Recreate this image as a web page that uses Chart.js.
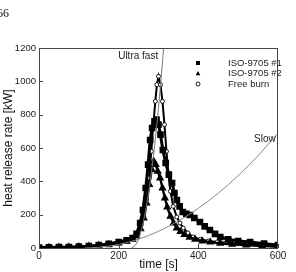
<!DOCTYPE html>
<html>
<head>
<meta charset="utf-8">
<script src="https://cdn.jsdelivr.net/npm/chart.js@4.4.0/dist/chart.umd.min.js"></script>
<style>
  html, body { margin: 0; padding: 0; background: #fff; }
</style>
</head>
<body>
<canvas id="hrr-chart" width="296" height="272"></canvas>
<script>
// values
var xTicks = [0, 200, 400, 600];
var yTicks = [0, 200, 400, 600, 800, 1000, 1200];

var iso1Time = [0, 25, 50, 75, 100, 125, 150, 175, 200, 220, 235, 245, 254, 261, 268, 274, 279, 284, 290, 295, 300, 305, 311, 318, 326, 334, 340, 346, 353, 361, 370, 379, 390, 404, 416, 429, 442, 455, 475, 500, 530, 565, 600];
var iso1Hrr = [3, 4, 5, 6, 8, 11, 17, 25, 36, 46, 60, 85, 150, 228, 360, 500, 648, 720, 760, 770, 740, 680, 588, 510, 440, 390, 330, 288, 250, 216, 205, 198, 180, 156, 130, 108, 85, 66, 52, 42, 36, 26, 18];

var iso2Time = [0, 25, 50, 75, 100, 125, 150, 175, 200, 220, 235, 245, 255, 263, 270, 277, 283, 288, 293, 298, 304, 310, 316, 322, 330, 338, 346, 355, 365, 378, 392, 410, 430, 455, 485, 520, 560, 600];
var iso2Hrr = [2, 3, 4, 5, 7, 10, 14, 21, 30, 40, 52, 72, 115, 180, 270, 380, 470, 520, 500, 460, 420, 360, 300, 245, 190, 150, 120, 98, 80, 64, 52, 42, 35, 28, 22, 17, 12, 9];

var freeTime = [0, 25, 50, 75, 100, 125, 150, 175, 200, 220, 235, 245, 255, 263, 270, 276, 282, 287, 292, 296, 300, 305, 310, 315, 320, 325, 330, 337, 346, 354, 362, 374, 387, 405, 425, 447, 470, 500, 530, 565, 600];
var freeHrr = [2, 3, 4, 5, 7, 10, 15, 22, 32, 42, 55, 75, 120, 190, 290, 420, 580, 740, 880, 980, 1030, 980, 880, 740, 580, 440, 340, 250, 186, 150, 120, 90, 66, 52, 42, 36, 31, 26, 22, 15, 8];

var ultraTime = [233, 245, 255, 265, 275, 285, 295, 305, 313];
var ultraHrr = [0, 27, 91, 192, 331, 507, 721, 973, 1200];

var slowTime = [115, 150, 200, 250, 300, 350, 400, 450, 500, 550, 600];
var slowHrr = [0, 4, 21, 53, 100, 162, 238, 329, 434, 554, 689];

function pairs(xs, ys) {
  return xs.map(function (x, i) { return { x: x, y: ys[i] }; });
}

var FONT = '"Liberation Sans", Arial, sans-serif';

var hrrOverlay = {
  id: 'hrrOverlay',
  afterDatasetsDraw: function (chart) {
    var ctx = chart.ctx;
    var area = chart.chartArea;
    var xs = chart.scales.x, ys = chart.scales.y;
    ctx.save();

    // frame round the plot
    ctx.strokeStyle = '#444';
    ctx.lineWidth = 1;
    ctx.strokeRect(area.left + 0.5, area.top + 0.5, area.right - area.left - 1, area.bottom - area.top);

    // inward tick marks
    ctx.beginPath();
    yTicks.forEach(function (v) {
      var py = Math.round(ys.getPixelForValue(v)) + 0.5;
      ctx.moveTo(area.left, py);
      ctx.lineTo(area.left + 4, py);
    });
    xTicks.forEach(function (v) {
      var px = Math.round(xs.getPixelForValue(v)) + 0.5;
      ctx.moveTo(px, area.bottom);
      ctx.lineTo(px, area.bottom - 4);
    });
    ctx.stroke();

    // curve labels
    ctx.fillStyle = '#222';
    ctx.font = '10px ' + FONT;
    ctx.textAlign = 'center';
    ctx.textBaseline = 'middle';
    ctx.fillText('Ultra fast', xs.getPixelForValue(249), ys.getPixelForValue(1152));
    ctx.fillText('Slow', xs.getPixelForValue(567), ys.getPixelForValue(654));

    // legend
    var labels = ['ISO-9705 #1', 'ISO-9705 #2', 'Free burn'];
    var rowsY = [63, 73.5, 84];
    ctx.textAlign = 'left';
    ctx.font = '9.5px ' + FONT;
    labels.forEach(function (t, i) {
      ctx.fillStyle = '#222';
      ctx.fillText(t, 228, rowsY[i]);
    });
    ctx.fillStyle = '#000';
    ctx.strokeStyle = '#000';
    ctx.fillRect(196, rowsY[0] - 2, 4, 4);
    ctx.beginPath();
    ctx.moveTo(198, rowsY[1] - 2.5);
    ctx.lineTo(200.3, rowsY[1] + 1.8);
    ctx.lineTo(195.7, rowsY[1] + 1.8);
    ctx.closePath();
    ctx.fill();
    ctx.beginPath();
    ctx.arc(198, rowsY[2], 2, 0, Math.PI * 2);
    ctx.fillStyle = '#fff';
    ctx.fill();
    ctx.lineWidth = 0.9;
    ctx.stroke();

    // page number
    ctx.fillStyle = '#111';
    ctx.font = '12px "Liberation Serif", serif';
    ctx.textBaseline = 'alphabetic';
    ctx.fillText('66', -3, 17);

    ctx.restore();
  }
};

var ctxEl = document.getElementById('hrr-chart');
var hrrChart = new Chart(ctxEl, {
  type: 'scatter',
  data: {
    datasets: [
      {
        label: 'Ultra fast',
        data: pairs(ultraTime, ultraHrr),
        showLine: true,
        borderColor: '#777',
        borderWidth: 1,
        pointRadius: 0,
        cubicInterpolationMode: 'monotone'
      },
      {
        label: 'Slow',
        data: pairs(slowTime, slowHrr),
        showLine: true,
        borderColor: '#888',
        borderWidth: 1,
        pointRadius: 0,
        cubicInterpolationMode: 'monotone'
      },
      {
        label: 'ISO-9705 #1',
        data: pairs(iso1Time, iso1Hrr),
        showLine: true,
        borderColor: '#000',
        borderWidth: 3,
        pointStyle: 'rect',
        pointRadius: 2.6,
        pointBackgroundColor: '#000',
        pointBorderColor: '#000'
      },
      {
        label: 'ISO-9705 #2',
        data: pairs(iso2Time, iso2Hrr),
        showLine: true,
        borderColor: '#000',
        borderWidth: 2.4,
        pointStyle: 'triangle',
        pointRadius: 2.4,
        pointBackgroundColor: '#000',
        pointBorderColor: '#000'
      },
      {
        label: 'Free burn',
        data: pairs(freeTime, freeHrr),
        showLine: true,
        borderColor: '#000',
        borderWidth: 2,
        pointStyle: 'circle',
        pointRadius: 2,
        pointBorderWidth: 0.9,
        pointBackgroundColor: '#fff',
        pointBorderColor: '#000'
      }
    ]
  },
  options: {
    responsive: false,
    devicePixelRatio: 1,
    animation: false,
    layout: { padding: { left: 0, right: 18, top: 48, bottom: 0 } },
    plugins: {
      legend: { display: false },
      tooltip: { enabled: false }
    },
    scales: {
      x: {
        type: 'linear',
        min: 0,
        max: 600,
        afterBuildTicks: function (scale) {
          scale.ticks = xTicks.map(function (v) { return { value: v }; });
        },
        afterFit: function (scale) { scale.height = 24; },
        grid: { display: false, drawTicks: false },
        border: { display: false },
        ticks: {
          padding: 2,
          color: '#222',
          font: { family: FONT, size: 10 },
          callback: function (v) { return String(v); }
        },
        title: {
          display: true,
          text: 'time [s]',
          color: '#111',
          padding: 0,
          font: { family: FONT, size: 12 }
        }
      },
      y: {
        type: 'linear',
        min: 0,
        max: 1200,
        afterBuildTicks: function (scale) {
          scale.ticks = yTicks.map(function (v) { return { value: v }; });
        },
        afterFit: function (scale) { scale.width = 39; },
        grid: { display: false, drawTicks: false },
        border: { display: false },
        ticks: {
          padding: 3,
          color: '#222',
          font: { family: FONT, size: 9.5 },
          callback: function (v) { return String(v); }
        },
        title: {
          display: true,
          text: 'heat release rate [kW]',
          color: '#111',
          padding: { top: 1, bottom: 0 },
          font: { family: FONT, size: 12 }
        }
      }
    }
  },
  plugins: [hrrOverlay]
});
</script>
</body>
</html>
